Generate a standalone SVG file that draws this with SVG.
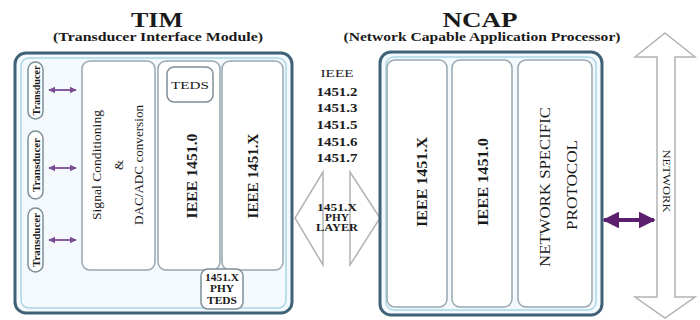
<svg xmlns="http://www.w3.org/2000/svg" width="700" height="320" viewBox="0 0 700 320">
<defs>
<style>
.outer{fill:#f3f9fc;stroke:#3f6276;stroke-width:3}
.outerin{fill:none;stroke:#a9d7e6;stroke-width:1.5}
.inner{fill:#ffffff;stroke:#98a6ae;stroke-width:1.5}
.pill{fill:#ffffff;stroke:#7f8f98;stroke-width:1.5}
.ghost{fill:#ffffff;stroke:#b3b3b3;stroke-width:1.5}
.t{font-family:"Liberation Serif","Times New Roman",serif;fill:#1a1a1a;text-anchor:middle}
.b{font-weight:bold}
.small{stroke:#7b4b94;stroke-width:1.8}
.big{stroke:#5c1f70;stroke-width:4}
</style>
<marker id="sa" viewBox="0 0 10 10" refX="9" refY="5" markerWidth="4" markerHeight="4" orient="auto-start-reverse" markerUnits="strokeWidth">
<path d="M0,0 L10,5 L0,10 Z" fill="#7b4b94"/>
</marker>
<marker id="ba" viewBox="0 0 10 10" refX="9" refY="5" markerWidth="4.2" markerHeight="4.2" orient="auto-start-reverse" markerUnits="strokeWidth">
<path d="M0,0 L10,5 L0,10 Z" fill="#5c1f70"/>
</marker>
</defs>
<rect width="700" height="320" fill="#ffffff"/>

<g id="titles">
<text class="t b" x="157" y="27" font-size="22" textLength="52" lengthAdjust="spacingAndGlyphs">TIM</text>
<text class="t b" x="158" y="41" font-size="12" textLength="210" lengthAdjust="spacingAndGlyphs">(Transducer Interface Module)</text>
<text class="t b" x="480" y="27" font-size="22" textLength="75" lengthAdjust="spacingAndGlyphs">NCAP</text>
<text class="t b" x="482" y="41" font-size="12" textLength="277" lengthAdjust="spacingAndGlyphs">(Network Capable Application Processor)</text>
</g>

<g id="tim">
<rect class="outer" x="15" y="53" width="277" height="260" rx="11"/>
<rect class="outerin" x="21" y="58" width="265" height="250" rx="8"/>
</g>

<g id="transducer1">
<rect class="pill" x="28" y="62" width="15" height="57" rx="7.5"/>
<text class="t b" transform="translate(39.5,90.5) rotate(-90)" font-size="10.5" textLength="50" lengthAdjust="spacingAndGlyphs">Transducer</text>
</g>
<g id="transducer2">
<rect class="pill" x="28" y="131" width="15" height="68" rx="7.5"/>
<text class="t b" transform="translate(39.5,165) rotate(-90)" font-size="10.5" textLength="54" lengthAdjust="spacingAndGlyphs">Transducer</text>
</g>
<g id="transducer3">
<rect class="pill" x="28" y="208" width="15" height="64" rx="7.5"/>
<text class="t b" transform="translate(39.5,240) rotate(-90)" font-size="10.5" textLength="54" lengthAdjust="spacingAndGlyphs">Transducer</text>
</g>

<g id="signal">
<rect class="inner" x="82" y="61" width="73" height="209" rx="8"/>
<text class="t" transform="translate(101,165) rotate(-90)" font-size="13" textLength="110" lengthAdjust="spacingAndGlyphs">Signal Conditioning</text>
<text class="t" transform="translate(123,165) rotate(-90)" font-size="13">&amp;</text>
<text class="t" transform="translate(143,165) rotate(-90)" font-size="13" textLength="120" lengthAdjust="spacingAndGlyphs">DAC/ADC conversion</text>
</g>

<g id="tim-ieee14510">
<rect class="inner" x="158" y="61" width="62" height="209" rx="8"/>
<text class="t b" transform="translate(197,176) rotate(-90)" font-size="15" textLength="85" lengthAdjust="spacingAndGlyphs">IEEE 1451.0</text>
</g>
<g id="teds">
<rect class="pill" x="167" y="67" width="46" height="35" rx="7"/>
<text class="t" x="190" y="89" font-size="11" textLength="38" lengthAdjust="spacingAndGlyphs">TEDS</text>
</g>

<g id="tim-ieee1451x">
<rect class="inner" x="222" y="61" width="61" height="209" rx="8"/>
<text class="t b" transform="translate(258,176) rotate(-90)" font-size="15" textLength="85" lengthAdjust="spacingAndGlyphs">IEEE 1451.X</text>
</g>

<g id="phy-teds">
<rect class="pill" x="201" y="269" width="42" height="40" rx="7"/>
<text class="t b" x="222" y="281" font-size="9.5" textLength="34" lengthAdjust="spacingAndGlyphs">1451.X</text>
<text class="t b" x="222" y="292" font-size="9.5" textLength="24" lengthAdjust="spacingAndGlyphs">PHY</text>
<text class="t b" x="222" y="304" font-size="9.5" textLength="30" lengthAdjust="spacingAndGlyphs">TEDS</text>
</g>

<g id="ieee-list">
<text class="t" x="337" y="77" font-size="11" textLength="33" lengthAdjust="spacingAndGlyphs">IEEE</text>
<text class="t b" x="337" y="96" font-size="13.5" textLength="41" lengthAdjust="spacingAndGlyphs">1451.2</text>
<text class="t b" x="337" y="112" font-size="13.5" textLength="41" lengthAdjust="spacingAndGlyphs">1451.3</text>
<text class="t b" x="337" y="129" font-size="13.5" textLength="41" lengthAdjust="spacingAndGlyphs">1451.5</text>
<text class="t b" x="337" y="146" font-size="13.5" textLength="41" lengthAdjust="spacingAndGlyphs">1451.6</text>
<text class="t b" x="337" y="162" font-size="13.5" textLength="41" lengthAdjust="spacingAndGlyphs">1451.7</text>
</g>

<g id="phy-layer">
<path class="ghost" d="M323,172 L295,218 L323,265 Z"/>
<path class="ghost" d="M350,172 L380,218 L350,265 Z"/>
<text class="t b" x="337" y="211" font-size="9.5" textLength="40" lengthAdjust="spacingAndGlyphs">1451.X</text>
<text class="t b" x="337" y="221" font-size="9.5" textLength="24" lengthAdjust="spacingAndGlyphs">PHY</text>
<text class="t b" x="337" y="231" font-size="9.5" textLength="42" lengthAdjust="spacingAndGlyphs">LAYER</text>
</g>

<g id="ncap">
<rect class="outer" x="380" y="52" width="222" height="263" rx="11"/>
<rect class="outerin" x="386" y="57" width="210" height="253" rx="8"/>
</g>
<g id="ncap-ieee1451x">
<rect class="inner" x="387" y="60" width="60" height="247" rx="8"/>
<text class="t b" transform="translate(427,182) rotate(-90)" font-size="15" textLength="90" lengthAdjust="spacingAndGlyphs">IEEE 1451.X</text>
</g>
<g id="ncap-ieee14510">
<rect class="inner" x="452" y="60" width="60" height="247" rx="8"/>
<text class="t b" transform="translate(488,182) rotate(-90)" font-size="15" textLength="88" lengthAdjust="spacingAndGlyphs">IEEE 1451.0</text>
</g>
<g id="network-protocol">
<rect class="inner" x="518" y="60" width="74" height="247" rx="8"/>
<text class="t" transform="translate(550,187) rotate(-90)" font-size="15.5" textLength="160" lengthAdjust="spacingAndGlyphs">NETWORK SPECIFIC</text>
<text class="t" transform="translate(577,185) rotate(-90)" font-size="15.5" textLength="90" lengthAdjust="spacingAndGlyphs">PROTOCOL</text>
</g>

<g id="network">
<path class="ghost" d="M665,33 L695,57 L675,57 L675,297 L695,297 L665,318 L635,297 L657,297 L657,57 L635,57 Z"/>
<text class="t" transform="translate(663,181) rotate(90)" font-size="11" textLength="63" lengthAdjust="spacingAndGlyphs">NETWORK</text>
</g>

<g id="connectors">
<line class="small" x1="49" y1="90" x2="76" y2="90" marker-start="url(#sa)" marker-end="url(#sa)"/>
<line class="small" x1="49" y1="168" x2="76" y2="168" marker-start="url(#sa)" marker-end="url(#sa)"/>
<line class="small" x1="49" y1="240" x2="76" y2="240" marker-start="url(#sa)" marker-end="url(#sa)"/>
<line class="big" x1="604" y1="220" x2="654" y2="220" marker-start="url(#ba)" marker-end="url(#ba)"/>
</g>
</svg>
